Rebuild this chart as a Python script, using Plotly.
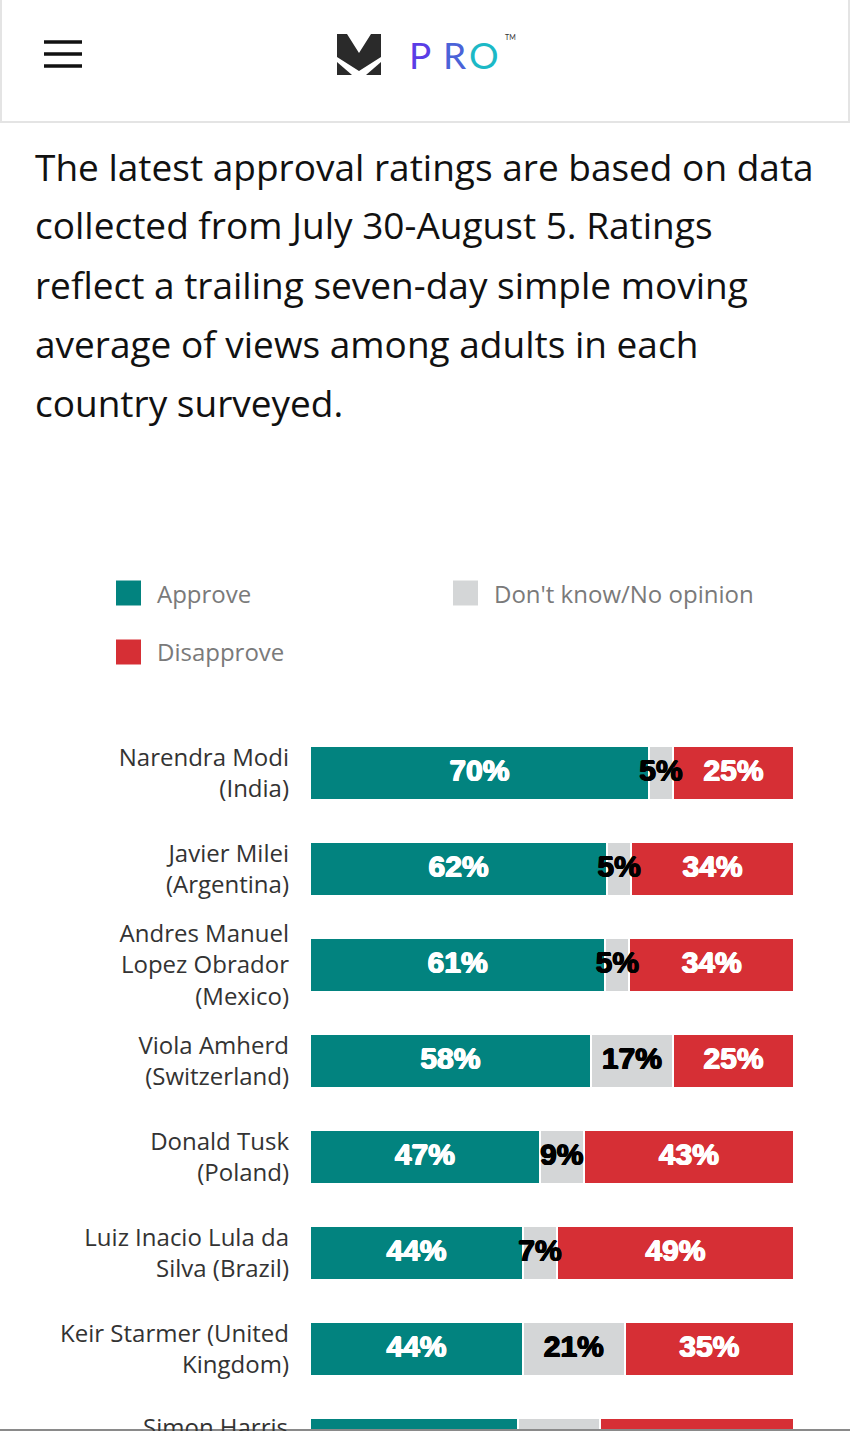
import numpy as np
import plotly.graph_objects as go

# ---------------- data ----------------
LEADERS = [
    "Narendra Modi<br>(India)",
    "Javier Milei<br>(Argentina)",
    "Andres Manuel<br>Lopez Obrador<br>(Mexico)",
    "Viola Amherd<br>(Switzerland)",
    "Donald Tusk<br>(Poland)",
    "Luiz Inacio Lula da<br>Silva (Brazil)",
    "Keir Starmer (United<br>Kingdom)",
    "Simon Harris<br>(Ireland)",
]
APPROVE = [70, 62, 61, 58, 47, 44, 44, 43]
DONT_KNOW = [5, 5, 5, 17, 9, 7, 21, 17]
DISAPPROVE = [25, 34, 34, 25, 43, 49, 35, 40]

SERIES = ["Approve", "Don't know/No opinion", "Disapprove"]
COLORS = ["#02837f", "#d4d6d7", "#d62f35"]
LABEL_COLORS = ["#ffffff", "#000000", "#ffffff"]

INTRO = [
    "The latest approval ratings are based on data",
    "collected from July 30-August 5. Ratings",
    "reflect a trailing seven-day simple moving",
    "average of views among adults in each",
    "country surveyed.",
]

# ---------------- layout helpers ----------------
W, H = 850, 1431
ML, MR, MT, MB = 310, 56, 725, 0
PW, PH = W - ML - MR, H - MT - MB
ROW = 96
Y_MAX = (H - MT) / ROW - 0.5


def px(x):
    return (x - ML) / PW


def py(y):
    return (H - MB - y) / PH


values = np.array([APPROVE, DONT_KNOW, DISAPPROVE], dtype=float)
norm = values / values.sum(axis=0) * 100
cum = np.cumsum(norm, axis=0)
mids = cum - norm / 2
visible = np.arange(len(LEADERS)) < Y_MAX  # rows whose labels fall inside the view

fig = go.Figure()
for i, name in enumerate(SERIES):
    fig.add_trace(go.Bar(
        y=LEADERS, x=values[i], name=name, orientation="h",
        marker=dict(color=COLORS[i], line=dict(color="#ffffff", width=2)),
        showlegend=False, hoverinfo="skip",
    ))
for i, name in enumerate(SERIES):
    c = LABEL_COLORS[i]
    fig.add_trace(go.Scatter(
        y=[l for l, v in zip(LEADERS, visible) if v],
        x=mids[i][visible], mode="text",
        text=[f"{int(v)}%" for v in values[i][visible]],
        textfont=dict(family="Liberation Sans", size=30, color=c, weight="bold",
                      shadow=f"0.7px 0 0 {c}, -0.7px 0 0 {c}, 0 0.6px 0 {c}, 0 -0.6px 0 {c}"),
        showlegend=False, hoverinfo="skip", cliponaxis=True,
    ))

shapes = []
annotations = []

# header
shapes.append(dict(type="rect", xref="paper", yref="paper",
                   x0=px(1), x1=px(849), y0=py(122), y1=py(-10),
                   line=dict(color="#e4e4e4", width=2), fillcolor="#ffffff", layer="below"))
for yy in (42, 54, 66):
    shapes.append(dict(type="line", xref="paper", yref="paper",
                       x0=px(44), x1=px(82), y0=py(yy), y1=py(yy),
                       line=dict(color="#111111", width=3.5)))


def poly(points):
    d = "M " + " L ".join(f"{px(a)},{py(b)}" for a, b in points) + " Z"
    return dict(type="path", xref="paper", yref="paper", path=d,
                fillcolor="#2a2a2a", line=dict(width=0))


shapes.append(poly([(337, 34), (347, 34), (359, 53), (371, 34), (381, 34),
                    (381, 57), (359, 71), (337, 57)]))
shapes.append(poly([(337, 62), (337, 75), (352, 75)]))
shapes.append(poly([(381, 62), (381, 75), (366, 75)]))

for ch, cx, col in (("P", 420, "#5a3de6"), ("R", 454, "#4a63d8"), ("O", 484, "#1cb9c6")):
    annotations.append(dict(text=ch, xref="paper", yref="paper", x=px(cx), y=py(54),
                            xanchor="center", yanchor="middle", showarrow=False,
                            font=dict(family="Lato", size=37, color=col, weight=400)))
annotations.append(dict(text="TM", xref="paper", yref="paper", x=px(503), y=py(37),
                        xanchor="left", yanchor="middle", showarrow=False,
                        font=dict(family="Lato", size=7, color="#333333")))

# intro paragraph
for k, line in enumerate(INTRO):
    annotations.append(dict(text=line, xref="paper", yref="paper",
                            x=px(33), y=py(166 + 59 * k), xanchor="left", yanchor="middle",
                            showarrow=False,
                            font=dict(family="Open Sans", size=37, color="#111111")))

# legend
legend_pos = [(116, 593), (453, 593), (116, 652)]
for i, name in enumerate(SERIES):
    lx, ly = legend_pos[i]
    shapes.append(dict(type="rect", xref="paper", yref="paper",
                       x0=px(lx), x1=px(lx + 25), y0=py(ly + 12.5), y1=py(ly - 12.5),
                       fillcolor=COLORS[i], line=dict(width=0)))
    annotations.append(dict(text=name, xref="paper", yref="paper",
                            x=px(lx + 39), y=py(ly), xanchor="left", yanchor="middle",
                            showarrow=False,
                            font=dict(family="Open Sans", size=24, color="#7a7a7a")))

# partially visible last label
annotations.append(dict(text=LEADERS[-1].split("<br>")[0], xref="paper", yref="paper",
                        x=px(290), y=py(1408), xanchor="right", yanchor="top",
                        showarrow=False,
                        font=dict(family="Open Sans", size=24, color="#333333")))

shapes.append(dict(type="line", xref="paper", yref="paper",
                   x0=px(-5), x1=px(860), y0=py(1430), y1=py(1430),
                   line=dict(color="#8a8a8a", width=2)))

fig.update_layout(
    width=W, height=H,
    margin=dict(l=ML, r=MR, t=MT, b=MB, pad=0),
    barmode="stack", barnorm="percent", bargap=0.4375,
    paper_bgcolor="#ffffff", plot_bgcolor="#ffffff",
    shapes=shapes, annotations=annotations,
    xaxis=dict(range=[0, 100], visible=False, fixedrange=True),
    yaxis=dict(
        type="category", categoryorder="array", categoryarray=LEADERS,
        range=[Y_MAX, -0.5],
        showgrid=False, zeroline=False, showline=False, ticks="",
        ticklabelstandoff=20,
        tickfont=dict(family="Open Sans", size=24, color="#333333"),
    ),
)

fig.write_html("out.html")
